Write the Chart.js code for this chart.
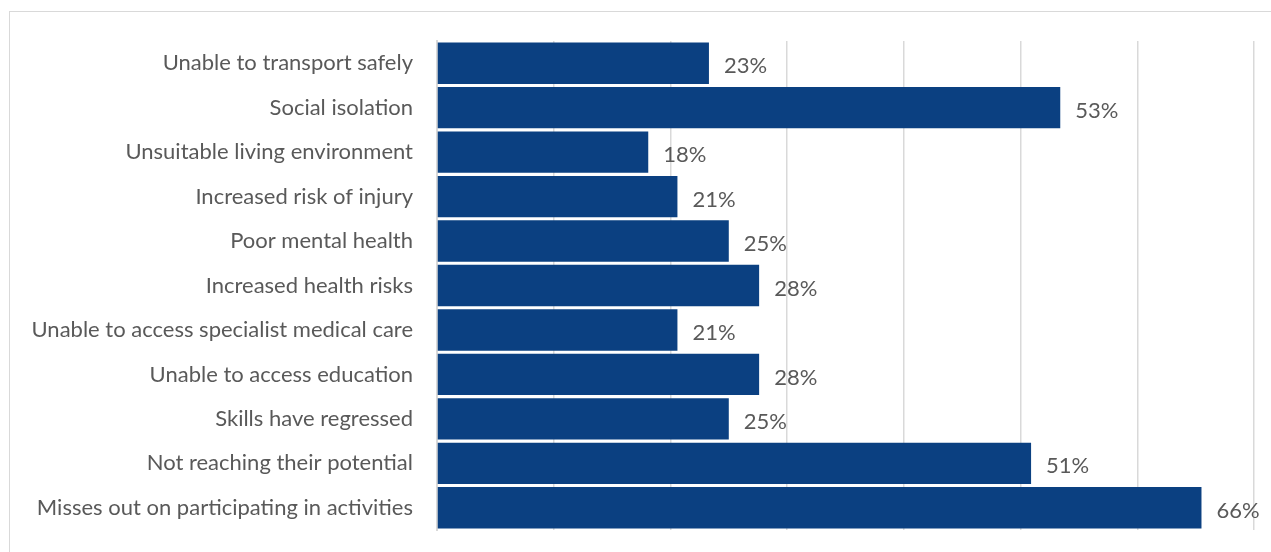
<!DOCTYPE html>
<html>
<head>
<meta charset="utf-8">
<script src="https://cdn.jsdelivr.net/npm/chart.js@4"></script>
<style>
  html, body { margin: 0; padding: 0; background: #fff; overflow: hidden; }
  #frame { position: absolute; left: 9px; top: 11px; width: 1400px; height: 700px; border: 1px solid #d9d9d9; box-sizing: border-box; }
  #wrap { position: absolute; left: 0; top: 0; width: 1271px; height: 552px; }
</style>
</head>
<body>
<div id="frame"></div>
<div id="wrap"><canvas id="bar-chart"></canvas></div>
<script>
// categories, top to bottom
const categories = [
    "Unable to transport safely",
    "Social isolation",
    "Unsuitable living environment",
    "Increased risk of injury",
    "Poor mental health",
    "Increased health risks",
    "Unable to access specialist medical care",
    "Unable to access education",
    "Skills have regressed",
    "Not reaching their potential",
    "Misses out on participating in activities"
];
// share of respondents (%)
const values = [23.3, 53.4, 18.1, 20.6, 25.0, 27.6, 20.6, 27.6, 25.0, 50.9, 65.5];
const xTicks = [0, 10, 20, 30, 40, 50, 60, 70];

const labelFont = "'Lato', 'Open Sans', sans-serif";

// value labels at the end of each bar
const barLabels = {
    id: 'barLabels',
    afterDatasetsDraw(chart) {
        const ctx = chart.ctx;
        const meta = chart.getDatasetMeta(0);
        ctx.save();
        ctx.font = "22px " + labelFont;
        ctx.fillStyle = "#595959";
        ctx.textAlign = "left";
        ctx.textBaseline = "middle";
        meta.data.forEach((bar, i) => {
            ctx.fillText(Math.round(values[i]) + "%", bar.x + 15, bar.y + 3);
        });
        ctx.restore();
    }
};

const chart = new Chart(document.getElementById("bar-chart"), {
    type: 'bar',
    data: {
        labels: categories,
        datasets: [{
            data: values,
            backgroundColor: "#0b4081",
            borderWidth: 0,
            barPercentage: 0.93,
            categoryPercentage: 1.0
        }]
    },
    options: {
        indexAxis: 'y',
        responsive: true,
        maintainAspectRatio: false,
        animation: false,
        layout: { padding: { top: 41, right: 17, bottom: 22, left: 0 } },
        plugins: {
            legend: { display: false },
            tooltip: { enabled: false }
        },
        scales: {
            x: {
                min: 0,
                max: 70,
                afterBuildTicks(scale) { scale.ticks = xTicks.map(v => ({ value: v })); },
                afterFit(scale) { scale.height = 0; },
                ticks: { display: false },
                grid: { color: "#d9d9d9", lineWidth: 1.5, drawTicks: false },
                border: { display: false }
            },
            y: {
                afterFit(scale) {
                    scale.width = 437;
                    scale.paddingTop = 0;
                    scale.paddingBottom = 0;
                },
                ticks: {
                    color: "#595959",
                    font: { family: labelFont, size: 22 },
                    padding: 24
                },
                grid: { display: false, drawTicks: false },
                border: { display: true, color: "#d9d9d9", width: 2 }
            }
        }
    },
    plugins: [barLabels]
});
</script>
</body>
</html>
